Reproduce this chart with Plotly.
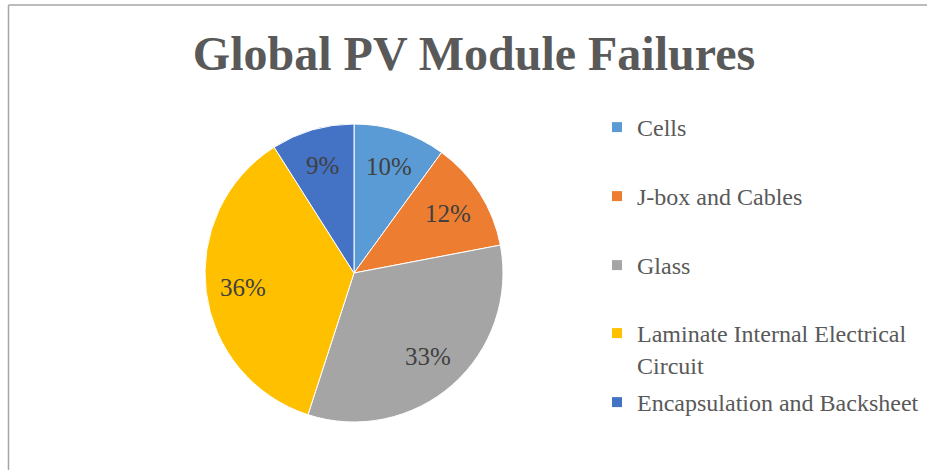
import math
import plotly.graph_objects as go

labels = ["Cells", "J-box and Cables", "Glass", "Laminate Internal Electrical Circuit", "Encapsulation and Backsheet"]
legend_labels = ["Cells", "J-box and Cables", "Glass", "Laminate Internal Electrical<br>Circuit", "Encapsulation and Backsheet"]
values = [10, 12, 33, 36, 9]
colors = ["#5B9BD5", "#ED7D31", "#A5A5A5", "#FFC000", "#4472C4"]
title_text = "Global PV Module Failures"

W, H = 927, 470
cx, cy, R = 354, 273, 149

fig = go.Figure()
fig.add_trace(go.Pie(
    labels=labels, values=values, sort=False, direction="clockwise", rotation=0,
    marker=dict(colors=colors, line=dict(color="white", width=1)),
    textinfo="none",
    showlegend=False, hoverinfo="label+percent",
    domain=dict(x=[(cx - R) / W, (cx + R) / W], y=[(H - cy - R) / H, (H - cy + R) / H]),
))

# data labels placed along each slice bisector (Excel "best fit" style)
total = sum(values)
annotations = []
cum = 0
for v in values:
    theta = 2 * math.pi * (cum + v / 2) / total
    cum += v
    r = 0.75 * R
    px = cx + r * math.sin(theta)
    py = cy - r * math.cos(theta)
    annotations.append(dict(
        x=px / W, y=1 - py / H, xref="paper", yref="paper", showarrow=False,
        text=f"{round(v / total * 100)}%", xanchor="center", yanchor="middle",
        font=dict(family="Liberation Serif", size=25, color="#404040"),
    ))

legend_y = [128, 197, 266, 334, 403]
legend_names = ["legend", "legend2", "legend3", "legend4", "legend5"]
for i in range(len(labels)):
    fig.add_trace(go.Scatter(
        x=[None], y=[None], mode="markers", name=legend_labels[i],
        marker=dict(symbol="square", size=10, color=colors[i]),
        legend=legend_names[i], hoverinfo="skip",
    ))

layout_legends = {}
for i, ln in enumerate(legend_names):
    layout_legends[ln] = dict(
        x=597 / W, xanchor="left", y=1 - (legend_y[i] - 23) / H, yanchor="top",
        font=dict(family="Liberation Serif", size=24, color="#595959"),
        bgcolor="rgba(0,0,0,0)", valign="top", itemclick=False, itemdoubleclick=False,
    )

fig.update_layout(
    width=W, height=H,
    margin=dict(l=0, r=0, t=0, b=0),
    paper_bgcolor="white", plot_bgcolor="white",
    title=dict(text="<b>" + title_text + "</b>", x=474 / W, xanchor="center", y=1 - 53 / H, yanchor="middle",
               font=dict(family="Liberation Serif", size=48, color="#595959")),
    xaxis=dict(visible=False), yaxis=dict(visible=False),
    annotations=annotations,
    shapes=[
        dict(type="line", xref="paper", yref="paper", x0=8.5 / W, x1=1, y0=1 - 5 / H, y1=1 - 5 / H,
             line=dict(color="#A6A6A6", width=1.5)),
        dict(type="line", xref="paper", yref="paper", x0=8.5 / W, x1=8.5 / W, y0=0, y1=1 - 5 / H,
             line=dict(color="#A6A6A6", width=1.5)),
    ],
    **layout_legends,
)

fig.write_html("out.html", config={"displayModeBar": False},
               post_script="document.body.style.margin='0';")
